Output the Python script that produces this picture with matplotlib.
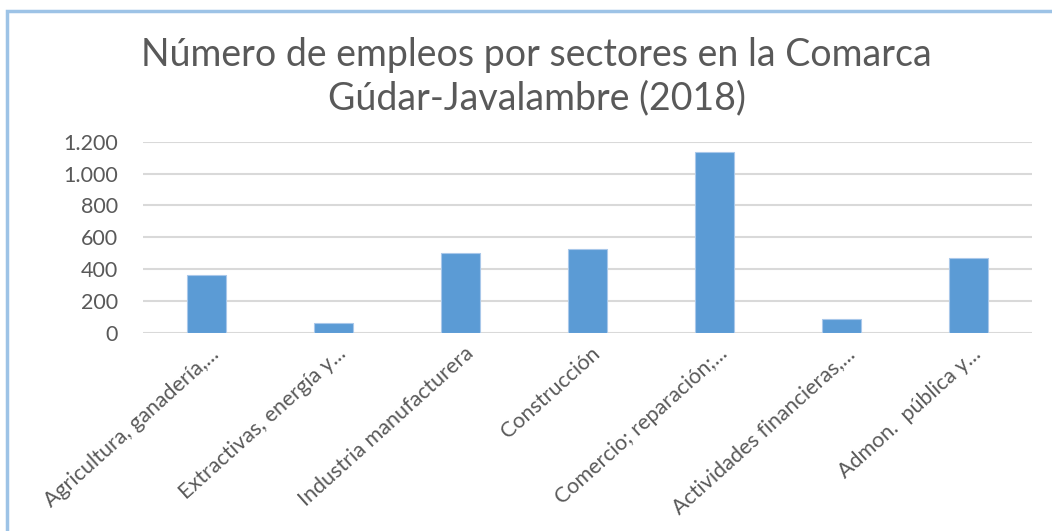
import matplotlib.pyplot as plt
import matplotlib.transforms as mtransforms
from matplotlib.patches import Rectangle

# Data
sectores = ['Agricultura, ganadería,...', 'Extractivas, energía y...',
            'Industria manufacturera', 'Construcción',
            'Comercio; reparación;...', 'Actividades financieras,...',
            'Admon.  pública y...']
empleos = [365, 65, 500, 525, 1135, 88, 468]
yticks = [0, 200, 400, 600, 800, 1000, 1200]
ytick_labels = ['0', '200', '400', '600', '800', '1.000', '1.200']

plt.rcParams['font.family'] = ['Lato', 'DejaVu Sans']
text_grey = '#595959'

fig = plt.figure(figsize=(10.52, 5.31), dpi=100)
ax = fig.add_axes([0.136, 0.373, 0.845, 0.36])

x = list(range(len(sectores)))
ax.bar(x, empleos, width=0.31, color='#5B9BD5', edgecolor='#A9C8EA',
       linewidth=0.8, zorder=3)

ax.set_ylim(0, 1200)
ax.set_xlim(-0.5, len(sectores) - 0.5)
ax.set_yticks(yticks)
ax.set_yticklabels(ytick_labels)
ax.grid(axis='y', color='#D9D9D9', linewidth=1.5, zorder=0)
ax.tick_params(axis='y', length=0, labelsize=15.5, labelcolor=text_grey, pad=18)
ax.tick_params(axis='x', length=0, labelsize=15.5, labelcolor=text_grey, pad=13)
for s in ['top', 'right', 'left', 'bottom']:
    ax.spines[s].set_visible(False)

ax.set_xticks(x)
ax.set_xticklabels(sectores, rotation=42, ha='right', va='center',
                   rotation_mode='anchor')
offset = mtransforms.ScaledTranslation(0.1, 0.0, fig.dpi_scale_trans)
for lbl in ax.get_xticklabels():
    lbl.set_transform(lbl.get_transform() + offset)

fig.text(0.51, 0.855, 'Número de empleos por sectores en la Comarca\nGúdar-Javalambre (2018)',
         ha='center', va='center', fontsize=27, color=text_grey, linespacing=1.25)

# light blue frame (left and top edges visible)
fig.add_artist(Rectangle((7 / 1052, -0.1), 1.2, 1 - 11 / 531 + 0.1,
                         transform=fig.transFigure, fill=False,
                         edgecolor='#9DC3E6', linewidth=2.5))

fig.savefig('out.png', dpi=100)
